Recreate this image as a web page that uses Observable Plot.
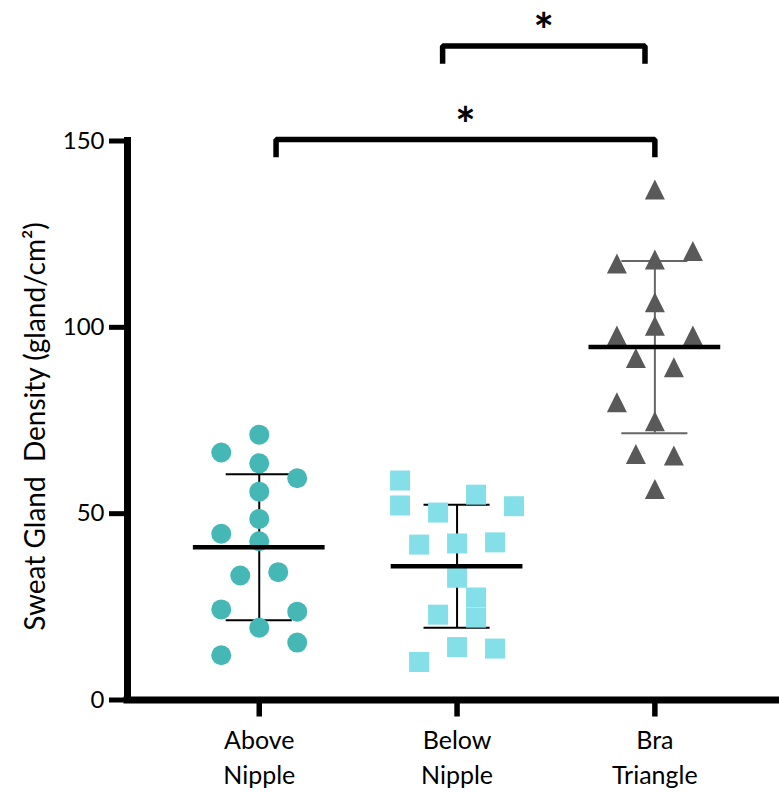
<!DOCTYPE html>
<html><head><meta charset="utf-8">
<script src="https://cdn.jsdelivr.net/npm/d3@7"></script>
<script src="https://cdn.jsdelivr.net/npm/@observablehq/plot@0.6"></script>
<style>
html,body{margin:0;padding:0;background:#fff;}
svg text{white-space:pre;}
</style>
</head><body><div id="chart"></div>
<script>
// ---- data ----
const categories = ["Above Nipple", "Below Nipple", "Bra Triangle"];
const tickLabels = ["Above\nNipple", "Below\nNipple", "Bra\nTriangle"];
const yTicks = [0, 50, 100, 150];
const yLabel = "Sweat Gland  Density (gland/cm²)";

const aboveNipple = [71.2, 66.4, 63.5, 59.5, 55.9, 48.6, 44.6, 42.6, 34.3, 33.4, 24.3, 23.7, 19.4, 15.4, 12.0];
const aboveColumn = [0, -2, 0, 2, 0, 0, -2, 0, 1, -1, -2, 2, 0, 2, -2];

const belowNipple = [58.9, 52.2, 55.1, 52.0, 50.3, 41.7, 42.0, 42.3, 32.8, 27.5, 22.1, 22.9, 14.2, 13.8, 10.2];
const belowColumn = [-3, -3, 1, 3, -1, -2, 0, 2, 0, 1, 1, -1, 0, 2, -2];

const braTriangle = [137.0, 120.5, 117.1, 118.2, 106.7, 100.4, 97.8, 97.8, 91.8, 89.3, 79.9, 74.8, 66.0, 65.6, 56.6];
const braColumn = [0, 2, -2, 0, 0, 0, -2, 2, -1, 1, -2, 0, -1, 1, 0];

const means = [41.0, 35.9, 94.7];
const sds = [19.6, 16.5, 23.1];

// significance brackets: [from category, to category, bar level]
const brackets = [
  {from: 0, to: 2, level: 150.4, label: "*"},
  {from: 1, to: 2, level: 175.5, label: "*"}
];

// ---- layout ----
const W = 779, H = 792;
const step = 0.096;          // column spacing in category units
const meanHalf = 0.333, capHalf = 0.167, legDrop = 4.75;
const legInset = [[0.085, 0.0], [-0.073, -0.05]];
const colors = ["#45B8B6", "#85DFE8", "#595959"];

const groups = [aboveNipple, belowNipple, braTriangle];
const columns = [aboveColumn, belowColumn, braColumn];
const rows = [];
groups.forEach((vals, gi) => vals.forEach((v, j) =>
  rows.push({gi, cat: categories[gi], value: v, xpos: gi + columns[gi][j] * step})));

const stats = categories.map((c, i) => ({i, mean: means[i], sd: sds[i]}));

const bracketPts = [];
const bracketMid = [];
brackets.forEach((b, k) => {
  const a = b.from + legInset[k][0], z = b.to + legInset[k][1];
  bracketPts.push({k, x: a, y: b.level - legDrop}, {k, x: a, y: b.level},
                  {k, x: z, y: b.level}, {k, x: z, y: b.level - legDrop});
  bracketMid.push({x: (a + z) / 2, y: b.level, label: b.label});
});

const triangle = {draw(ctx, size) {
  const b = Math.sqrt(2 * size);
  ctx.moveTo(0, -b / 2); ctx.lineTo(b / 2, b / 2); ctx.lineTo(-b / 2, b / 2); ctx.closePath();
}};
const square = {draw(ctx, size) {
  const s = Math.sqrt(size);
  ctx.rect(-s / 2, -s / 2, s, s);
}};

const xDomain = [-0.666, 2.63];

const chart = Plot.plot({
  width: W, height: H,
  marginLeft: 127, marginRight: 0, marginTop: 140.5, marginBottom: 92.5,
  style: {fontFamily: "Lato, sans-serif", fontSize: "24px", color: "#000", background: "#fff", overflow: "visible"},
  x: {type: "linear", domain: xDomain, axis: null},
  y: {domain: [0, 150], axis: null},
  marks: [
    // error bars (SD)
    Plot.ruleX(stats, {x: "i", y1: d => d.mean - d.sd, y2: d => d.mean + d.sd,
      stroke: d => d.i === 2 ? "#666" : "#000", strokeWidth: 2}),
    Plot.ruleY(stats, {y: d => d.mean + d.sd, x1: d => d.i - capHalf, x2: d => d.i + capHalf,
      stroke: d => d.i === 2 ? "#666" : "#000", strokeWidth: 2}),
    Plot.ruleY(stats, {y: d => d.mean - d.sd, x1: d => d.i - capHalf, x2: d => d.i + capHalf,
      stroke: d => d.i === 2 ? "#666" : "#000", strokeWidth: 2}),
    // points
    Plot.dot(rows.filter(d => d.gi === 0), {x: "xpos", y: "value", r: 10, fill: colors[0], symbol: "circle"}),
    Plot.dot(rows.filter(d => d.gi === 1), {x: "xpos", y: "value", r: 11.28, fill: colors[1], symbol: square}),
    Plot.dot(rows.filter(d => d.gi === 2), {x: "xpos", y: "value", r: 7.98, fill: colors[2], symbol: triangle}),
    // means
    Plot.ruleY(stats, {y: "mean", x1: d => d.i - meanHalf, x2: d => d.i + meanHalf, stroke: "#000", strokeWidth: 4.5}),
    // axes lines
    Plot.ruleY([0], {stroke: "#000", strokeWidth: 7, strokeLinecap: "square"}),
    Plot.ruleX([xDomain[0]], {stroke: "#000", strokeWidth: 7, strokeLinecap: "square"}),
    // y axis ticks + labels
    Plot.axisY({ticks: yTicks, tickSize: 18, tickPadding: 5, strokeWidth: 5, fontSize: 24, label: null, tickFormat: d => String(d)}),
    // x axis ticks + labels
    Plot.axisX({ticks: [0, 1, 2], tickSize: 17, tickPadding: 7, strokeWidth: 5.5, fontSize: 25,
      lineHeight: 1.4, label: null, tickFormat: i => tickLabels[i]}),
    // y axis title
    Plot.text([yLabel], {frameAnchor: "left", textAnchor: "middle", dx: -91, dy: 6, rotate: -90, fontSize: 28, fill: "#000"}),
    // brackets
    Plot.line(bracketPts, {x: "x", y: "y", z: "k", stroke: "#000", strokeWidth: 5.5,
      strokeLinejoin: "miter", strokeLinecap: "butt"}),
    Plot.text(bracketMid, {x: "x", y: "y", text: "label", dy: -13, fontSize: 48, fontWeight: "bold", fill: "#000"})
  ]
});
document.getElementById("chart").appendChild(chart);
</script>
</body></html>
